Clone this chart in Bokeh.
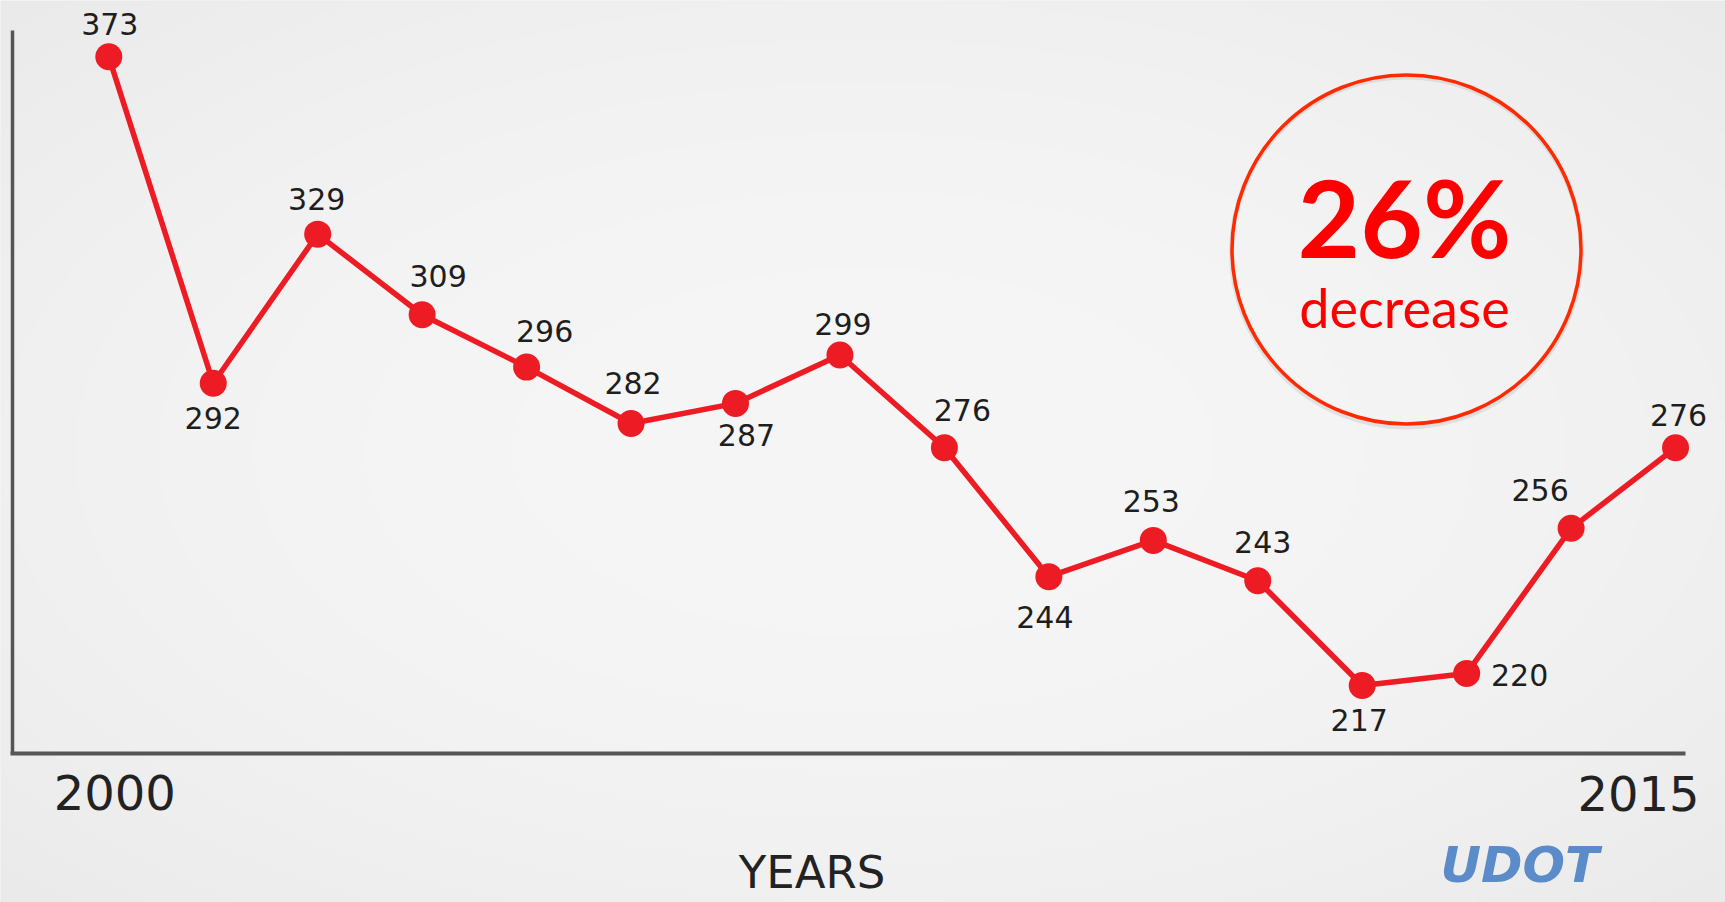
import numpy as np
from bokeh.plotting import figure
from bokeh.models import ColumnDataSource, Range1d, LinearAxis, FixedTicker
from bokeh.core.properties import value
from bokeh.embed import file_html
from bokeh.resources import INLINE

# ---------------- data ----------------
years = list(range(2000, 2016))
fatalities = [373, 292, 329, 309, 296, 282, 287, 299, 276, 244, 253, 243, 217, 220, 256, 276]
point_labels = [str(v) for v in fatalities]
tick_years = [2000, 2015]
tick_labels = ["2000", "2015"]
axis_title = "YEARS"
badge_value = "26%"
badge_text = "decrease"
logo_text = "UDOT"

# label placement relative to each point (screen px, + = right / down)
label_dx = [1, 0, -1, 16, 18, 2, 11, 3, 18, -4, -2, 5, -3, 53, -31, 3]
label_dy = [-33, 35, -35, -39, -36, -41, 32, -31, -38, 40, -39, -39, 35, 2, -38, -33]

# ---------------- geometry (pixel calibration) ----------------
W, H = 1725, 902
X0_PX, X_STEP = 108.3, 104.45      # px of year 2000, px per year
Y_A, Y_K = 1559.5, 4.03            # px of value 0, px per unit

x_start = 2000 - X0_PX / X_STEP
x_end = x_start + W / X_STEP
y_end = Y_A / Y_K
y_start = (Y_A - H) / Y_K


def px_x(px):
    return x_start + px / X_STEP


def px_y(py):
    return (Y_A - py) / Y_K


axis_left = px_x(11.7)
axis_right = px_x(1685)
axis_base = px_y(752.5)
axis_top = px_y(30)

p = figure(width=W, height=H,
           x_range=Range1d(x_start, x_end), y_range=Range1d(y_start, y_end),
           x_axis_type=None, y_axis_type=None,
           toolbar_location=None, output_backend="svg", min_border=0,
           background_fill_color="#ececec", border_fill_color="#ececec",
           outline_line_color=None)

# subtle vignette background
ny, nx = 226, 432
yy, xx = np.mgrid[0:ny, 0:nx]
u = ((xx + 0.5) / nx - 0.5) / 0.5
v = ((yy + 0.5) / ny - 0.5) / 0.5
c = np.clip(246 - 6.0 * (u ** 2 + v ** 2), 0, 255).astype(np.uint8)
img = np.empty((ny, nx), dtype=np.uint32)
view = img.view(dtype=np.uint8).reshape((ny, nx, 4))
view[..., 0] = c
view[..., 1] = c
view[..., 2] = c
view[..., 3] = 255
p.image_rgba(image=[img], x=x_start, y=y_start, dw=x_end - x_start, dh=y_end - y_start)

# axes (lines only)
xaxis = LinearAxis(fixed_location=axis_base, bounds=(axis_left - 0.015, axis_right),
                   ticker=FixedTicker(ticks=[]), axis_line_width=4, axis_line_color="#555555",
                   major_tick_line_color=None, minor_tick_line_color=None,
                   major_label_text_font_size="0px")
yaxis = LinearAxis(fixed_location=axis_left, bounds=(axis_base, axis_top),
                   ticker=FixedTicker(ticks=[]), axis_line_width=3.5, axis_line_color="#555555",
                   major_tick_line_color=None, minor_tick_line_color=None,
                   major_label_text_font_size="0px")
p.add_layout(xaxis, "below")
p.add_layout(yaxis, "left")

src = ColumnDataSource(dict(year=years, val=fatalities, label=point_labels,
                            dx=label_dx, dy=label_dy))

p.line("year", "val", source=src, line_color="#ed1c24", line_width=5.5, line_join="round")
p.scatter("year", "val", source=src, size=27, fill_color="#ed1c24", line_color=None)
p.text("year", "val", text="label", x_offset="dx", y_offset="dy", source=src,
       text_align="center", text_baseline="middle", text_font=value("DejaVu Sans"),
       text_font_size="30px", text_color="#1e1e1e")

# x tick labels and title
p.text(x=tick_years, y=[axis_base] * 2, text=tick_labels, x_offset=[6, -37], y_offset=[39, 40],
       text_align="center", text_baseline="middle", text_font=value("DejaVu Sans"),
       text_font_size="48px", text_color="#222222")
p.text(x=[px_x(811.5)], y=[px_y(872)], text=[axis_title], text_align="center",
       text_baseline="middle", text_font=value("DejaVu Sans"), text_font_size="45px",
       text_color="#222222")

# badge circle
bx, by = px_x(1406), px_y(249)
p.scatter(x=[bx], y=[by - 0.6], size=350, fill_color=None, line_color="#000000",
          line_alpha=0.08, line_width=5)
p.scatter(x=[bx], y=[by], size=349, fill_color=None, line_color="#ff2a00", line_width=3.5)
p.text(x=[bx], y=[by], text=[badge_value], x_offset=-2, y_offset=-34, text_align="center",
       text_baseline="middle", text_font=value("Lato"), text_font_style="bold",
       text_font_size="108px", text_color="#ff0000")
p.text(x=[bx], y=[by], text=[badge_text], x_offset=-2, y_offset=58, text_align="center",
       text_baseline="middle", text_font=value("Lato"), text_font_size="54px",
       text_color="#ff0000")

# logo
p.text(x=[px_x(1440)], y=[px_y(864)], text=[logo_text], text_align="left",
       text_baseline="middle", text_font=value("DejaVu Sans"), text_font_style="bold italic",
       text_font_size="50px", text_color="#5b8bc8")

open("out.html", "w").write(file_html(p, INLINE))
